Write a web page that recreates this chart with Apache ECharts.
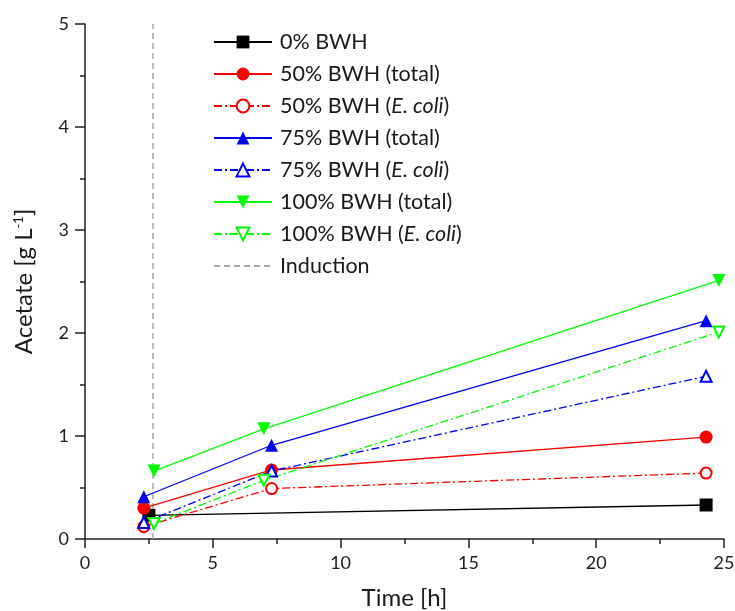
<!DOCTYPE html>
<html>
<head>
<meta charset="utf-8">
<script src="https://cdn.jsdelivr.net/npm/echarts@6/dist/echarts.min.js"></script>
<style>html,body{margin:0;padding:0;background:#fff;}#c{width:735px;height:611px;}</style>
</head>
<body>
<div id="c"></div>
<script>
// Data
const timeA = [2.3, 7.3, 24.3];
const timeGreen = [2.7, 7.0, 24.8];
const timeBlack = [2.5, 24.3];
const bwh0 = [0.23, 0.33];
const bwh50Total = [0.30, 0.67, 0.99];
const bwh50Ecoli = [0.12, 0.49, 0.64];
const bwh75Total = [0.41, 0.91, 2.12];
const bwh75Ecoli = [0.16, 0.66, 1.58];
const bwh100Total = [0.66, 1.07, 2.51];
const bwh100Ecoli = [0.15, 0.57, 2.01];
const inductionTime = 2.66;
const inductionRange = [0, 5];
const seriesNames = ['0% BWH', '50% BWH (total)', '50% BWH (E. coli)', '75% BWH (total)', '75% BWH (E. coli)', '100% BWH (total)', '100% BWH (E. coli)', 'Induction'];

const FONT = 'Lato';
const pair = (xs, ys) => xs.map((x, i) => [x, ys[i]]);
const dashDot = [8, 3, 2, 3];

function mk(name, xs, ys, color, symbol, rotate, dashed, empty) {
  return {
    name, type: 'line', data: pair(xs, ys),
    symbol, symbolRotate: rotate, symbolSize: empty ? 11 : 13,
    lineStyle: { color, width: 1.3, type: dashed ? dashDot : 'solid' },
    itemStyle: empty ? { color: '#fff', borderColor: color, borderWidth: 2 } : { color, borderWidth: 0 },
    emphasis: { disabled: true }, animation: false, z: 3
  };
}

const series = [
  mk(seriesNames[0], timeBlack, bwh0, '#000000', 'rect', 0, false, false),
  mk(seriesNames[1], timeA, bwh50Total, '#ff0000', 'circle', 0, false, false),
  mk(seriesNames[2], timeA, bwh50Ecoli, '#ff0000', 'circle', 0, true, true),
  mk(seriesNames[3], timeA, bwh75Total, '#0000ff', 'triangle', 0, false, false),
  mk(seriesNames[4], timeA, bwh75Ecoli, '#0000ff', 'triangle', 0, true, true),
  mk(seriesNames[5], timeGreen, bwh100Total, '#00ff00', 'triangle', 180, false, false),
  mk(seriesNames[6], timeGreen, bwh100Ecoli, '#00ff00', 'triangle', 180, true, true),
  {
    name: seriesNames[7], type: 'line', data: inductionRange.map(v => [inductionTime, v]),
    showSymbol: false, symbol: 'circle',
    lineStyle: { color: '#a8a8a8', width: 1.5, type: [6, 4] },
    itemStyle: { color: 'rgba(0,0,0,0)', borderWidth: 0 },
    emphasis: { disabled: true }, animation: false, z: 2
  }
];

const chart = echarts.init(document.getElementById('c'), null, { renderer: 'canvas' });
chart.setOption({
  animation: false,
  backgroundColor: '#fff',
  grid: { left: 85, right: 11, top: 24, bottom: 72, containLabel: false, outerBoundsMode: 'none' },
  legend: {
    orient: 'vertical', left: 213, top: 31, padding: 0,
    itemWidth: 58, itemHeight: 16, itemGap: 10,
    data: seriesNames.map(n => n === 'Induction' ? { name: n, itemStyle: { opacity: 0 } } : n),
    formatter: n => n.replace('E. coli', '{i|E. coli}'),
    textStyle: {
      fontFamily: FONT, fontSize: 21.5, lineHeight: 22, color: '#1a1a1a', padding: [0, 0, 0, 3],
      rich: { i: { fontFamily: FONT, fontSize: 21.5, lineHeight: 22, fontStyle: 'italic', color: '#1a1a1a' } }
    },
    selectedMode: false
  },
  xAxis: {
    type: 'value', min: 0, max: 25, interval: 5,
    name: 'Time [h]', nameLocation: 'middle', nameGap: 47,
    nameTextStyle: { fontFamily: FONT, fontSize: 24, color: '#1a1a1a' },
    axisLine: { onZero: false, lineStyle: { color: '#222', width: 1.5 } },
    axisTick: { show: true, inside: false, length: 9, lineStyle: { color: '#222', width: 1.5 } },
    minorTick: { show: true, splitNumber: 2, length: 5, lineStyle: { color: '#222', width: 1.5 } },
    axisLabel: { fontFamily: FONT, fontSize: 18, color: '#222', margin: 15 },
    splitLine: { show: false }
  },
  yAxis: {
    type: 'value', min: 0, max: 5, interval: 1,
    name: 'Acetate [g L{sup|-1}]', nameLocation: 'middle', nameGap: 48,
    nameTextStyle: {
      fontFamily: FONT, fontSize: 24, color: '#1a1a1a',
      rich: { sup: { fontFamily: FONT, fontSize: 13, color: '#1a1a1a', padding: [0, 0, 12, 0] } }
    },
    axisLine: { onZero: false, lineStyle: { color: '#222', width: 1.5 } },
    axisTick: { show: true, inside: false, length: 10, lineStyle: { color: '#222', width: 1.5 } },
    minorTick: { show: true, splitNumber: 2, length: 5, lineStyle: { color: '#222', width: 1.5 } },
    axisLabel: { fontFamily: FONT, fontSize: 18, color: '#222', margin: 16 },
    splitLine: { show: false }
  },
  series
});
</script>
</body>
</html>
